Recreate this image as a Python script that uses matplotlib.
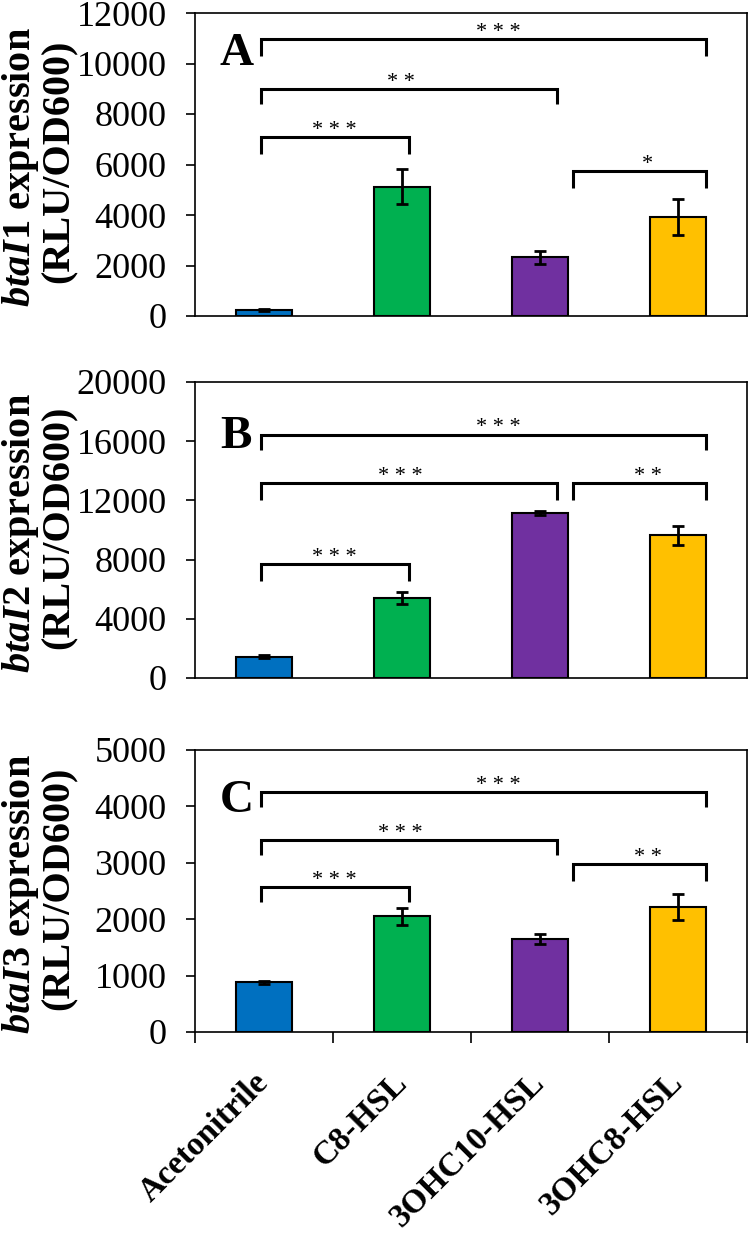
import matplotlib
matplotlib.use("Agg")
import matplotlib.pyplot as plt
import matplotlib.transforms as mtransforms

# ---------------------------------------------------------------
# data
# ---------------------------------------------------------------
categories = ["Acetonitrile", "C8-HSL", "3OHC10-HSL", "3OHC8-HSL"]
bar_colors = ["#0070C0", "#00B050", "#7030A0", "#FFC000"]

btaI1_mean = [230, 5120, 2320, 3910]
btaI1_err = [30, 690, 265, 710]

btaI2_mean = [1450, 5420, 11150, 9650]
btaI2_err = [110, 390, 110, 650]

btaI3_mean = [880, 2050, 1650, 2220]
btaI3_err = [30, 145, 85, 235]

# significance brackets: (x left, x right, y of bar, y of leg ends, label, label x)
btaI1_sig = [(-0.02, 3.20, 10960, 10300, "* * *", 1.70),
             (-0.02, 2.12, 8980, 8380, "* *", 0.99),
             (-0.02, 1.05, 7100, 6400, "* * *", 0.51),
             (2.24, 3.20, 5740, 5060, "*", 2.78)]
btaI2_sig = [(-0.02, 3.20, 16450, 15390, "* * *", 1.70),
             (-0.02, 2.12, 13180, 12060, "* * *", 0.99),
             (2.24, 3.20, 13180, 12060, "* *", 2.78),
             (-0.02, 1.05, 7690, 6560, "* * *", 0.51)]
btaI3_sig = [(-0.02, 3.20, 4260, 3990, "* * *", 1.70),
             (-0.02, 2.12, 3400, 3140, "* * *", 0.99),
             (-0.02, 1.05, 2570, 2310, "* * *", 0.51),
             (2.24, 3.20, 2970, 2675, "* *", 2.78)]

panel_letters = ["A", "B", "C"]
gene_names = ["btaI1", "btaI2", "btaI3"]
y_max = [12000, 20000, 5000]
y_step = [2000, 4000, 1000]

# ---------------------------------------------------------------
# style
# ---------------------------------------------------------------
plt.rcParams["font.family"] = ["Liberation Serif", "DejaVu Serif"]
plt.rcParams["mathtext.fontset"] = "custom"
plt.rcParams["mathtext.rm"] = "Liberation Serif"
plt.rcParams["mathtext.it"] = "Liberation Serif:italic"
plt.rcParams["mathtext.bf"] = "Liberation Serif:bold"
plt.rcParams["mathtext.bfit"] = "Liberation Serif:italic:bold"

W, H = 750, 1237
fig = plt.figure(figsize=(W / 100, H / 100), dpi=100)


def px_axes(left, top, right, bottom):
    return fig.add_axes([left / W, 1 - bottom / H, (right - left) / W, (bottom - top) / H])


axes = [px_axes(195, 13, 747, 316),
        px_axes(195, 382, 747, 678),
        px_axes(195, 750, 747, 1032)]

means = [btaI1_mean, btaI2_mean, btaI3_mean]
errs = [btaI1_err, btaI2_err, btaI3_err]
sigs = [btaI1_sig, btaI2_sig, btaI3_sig]
xpos = list(range(len(categories)))

for i, ax in enumerate(axes):
    ax.bar(xpos, means[i], width=0.41, color=bar_colors,
           edgecolor="black", linewidth=1.5, zorder=2)
    ax.errorbar(xpos, means[i], yerr=errs[i], fmt="none", ecolor="black",
                elinewidth=2, capsize=4.5, capthick=2, zorder=3)

    ax.set_xlim(-0.5, 3.5)
    ax.set_ylim(0, y_max[i])
    ax.set_yticks(range(0, y_max[i] + 1, y_step[i]))
    ax.tick_params(axis="y", direction="out", length=6.5, width=1.2,
                   labelsize=26, pad=14)
    for sp in ax.spines.values():
        sp.set_linewidth(1.2)

    # brackets
    for x1, x2, yh, yl, lab, lx in sigs[i]:
        ax.plot([x1, x1, x2, x2], [yl, yh, yh, yl], color="black", lw=2.2,
                solid_joinstyle="miter", solid_capstyle="butt", zorder=4)
        ax.annotate(lab, xy=(lx, yh), xytext=(0, 1.5), textcoords="offset points",
                    ha="center", va="baseline", fontsize=16)

    # panel letter
    ax.text(0.045, [0.828, 0.777, 0.780][i], panel_letters[i], transform=ax.transAxes,
            fontsize=34, fontweight="bold", ha="left", va="baseline")

    # two-line y label
    tr = mtransforms.blended_transform_factory(fig.transFigure, ax.transAxes)
    ax.text(21 / W, 0.49, r"$\mathbfit{btaI}$" + gene_names[i][-1] + " expression",
            transform=tr, rotation=90, ha="center", va="center",
            fontsize=29, fontweight="bold")
    ax.text(59 / W, 0.51, "(RLU/OD600)", transform=tr, rotation=90,
            ha="center", va="center", fontsize=29, fontweight="bold")

    if i < 2:
        ax.set_xticks([])
    else:
        ax.set_xticks(xpos)
        ax.set_xticklabels(categories, rotation=45, ha="right", va="center",
                           rotation_mode="anchor", fontsize=24, fontweight="bold")
        ax.tick_params(axis="x", which="major", length=0, pad=33)
        ax.set_xticks([x - 0.5 for x in range(len(categories) + 1)], minor=True)
        ax.tick_params(axis="x", which="minor", direction="out", length=8, width=1.2)

fig.savefig("out.png", dpi=100)
